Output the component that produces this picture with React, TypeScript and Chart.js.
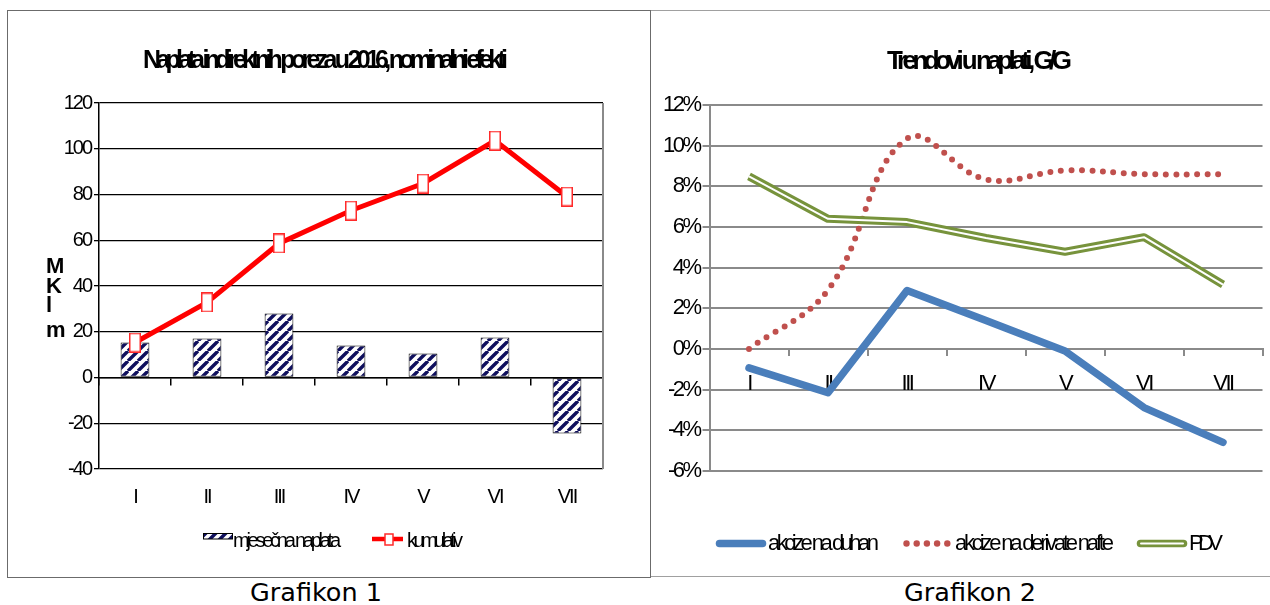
import React, { useEffect, useRef } from 'react';
import { Chart, registerables } from 'chart.js';

Chart.register(...registerables);

// ---------- data ----------
const MONTHS = ['I', 'II', 'III', 'IV', 'V', 'VI', 'VII'];

const MONTHLY_COLLECTION = [15.3, 17, 28, 14, 10.5, 17.5, -24.5];
const CUMULATIVE = [15.3, 32.8, 58.6, 73, 84.8, 103.6, 79.1];
const LEFT_Y_TICKS = [-40, -20, 0, 20, 40, 60, 80, 100, 120];
const LEFT_TITLE = 'Naplata indirektnih poreza u 2016, nominalni efekti';
const LEFT_SERIES = ['mjesečna naplata', 'kumulativ'];
const LEFT_Y_LETTERS = ['M', 'K', 'l', 'm'];

const TOBACCO = [-0.93, -2.15, 2.88, 1.4, -0.1, -2.88, -4.59];
const FUEL = [0.0, 2.9, 10.34, 8.34, 8.78, 8.6, 8.6];
const VAT = [8.49, 6.4, 6.24, 5.46, 4.78, 5.5, 3.17];
const RIGHT_Y_TICKS = [-6, -4, -2, 0, 2, 4, 6, 8, 10, 12];
const RIGHT_TITLE = 'Trendovi u naplati, G/G';
const RIGHT_SERIES = ['akcize na duhan', 'akcize na derivate nafte', 'PDV'];

const CAPTIONS = ['Grafikon 1', 'Grafikon 2'];

// ---------- styling ----------
const FONT = '"Liberation Sans", Arial, sans-serif';
const GRID_R = '#8a8a8a';
Chart.defaults.font.family = FONT;
Chart.defaults.color = '#000';

function spacingPlugin(px: number) {
  const set = (chart: any) => {
    (chart.ctx as any).letterSpacing = px + 'px';
  };
  return { id: 'letterSpacing', beforeUpdate: set, beforeLayout: set, beforeDraw: set, beforeRender: set };
}

function fitText(ctx: any, text: string, x: number, y: number, width: number, font: string) {
  ctx.save();
  ctx.font = font;
  ctx.letterSpacing = '0px';
  const w0 = ctx.measureText(text).width;
  const n = Array.from(text).length;
  ctx.letterSpacing = (width - w0) / Math.max(1, n - 1) + 'px';
  ctx.textAlign = 'left';
  ctx.textBaseline = 'alphabetic';
  ctx.fillStyle = '#000';
  ctx.fillText(text, x, y);
  ctx.restore();
}

function makeStripeTile() {
  const s = 10;
  const tile = document.createElement('canvas');
  tile.width = s;
  tile.height = s;
  const t = tile.getContext('2d')!;
  t.fillStyle = '#ffffff';
  t.fillRect(0, 0, s, s);
  t.strokeStyle = '#10105e';
  t.lineWidth = 3.4;
  t.beginPath();
  t.moveTo(-s, s); t.lineTo(0, 0);
  t.moveTo(0, s); t.lineTo(s, 0);
  t.moveTo(s, s); t.lineTo(2 * s, 0);
  t.stroke();
  return tile;
}

function makeMarker() {
  const mk = document.createElement('canvas');
  mk.width = 12;
  mk.height = 20;
  const m = mk.getContext('2d')!;
  m.fillStyle = '#ffffff';
  m.fillRect(1, 1, 10, 18);
  m.strokeStyle = '#ff2a2a';
  m.lineWidth = 1.5;
  m.strokeRect(0.75, 0.75, 10.5, 18.5);
  return mk;
}

function makeLeftChart(canvas: HTMLCanvasElement) {
  const ctx = canvas.getContext('2d')!;
  const pattern = ctx.createPattern(makeStripeTile(), 'repeat')!;
  const marker = makeMarker();
  const tickFont = { family: FONT, size: 20 };
  const step = LEFT_Y_TICKS[1] - LEFT_Y_TICKS[0];

  const decor = {
    id: 'leftDecor',
    afterDraw(chart: any) {
      const c = chart.ctx;
      const a = chart.chartArea;
      // plot area right border
      c.save();
      c.strokeStyle = '#8a8a8a';
      c.lineWidth = 2;
      c.beginPath();
      c.moveTo(a.right, a.top);
      c.lineTo(a.right, a.bottom);
      c.stroke();
      c.restore();

      // title
      fitText(c, LEFT_TITLE, 135, 57, 365, `bold 25px ${FONT}`);

      // stacked y-axis letters
      c.save();
      c.font = `bold 22px ${FONT}`;
      c.letterSpacing = '0px';
      c.fillStyle = '#000';
      c.textAlign = 'left';
      c.textBaseline = 'alphabetic';
      const baselines = [262, 282, 301, 326];
      LEFT_Y_LETTERS.forEach((ch, i) => c.fillText(ch, 38, baselines[i]));
      c.restore();

      // legend
      const lf = `20px ${FONT}`;
      c.save();
      c.fillStyle = pattern;
      c.fillRect(195, 522, 30, 6);
      c.strokeStyle = '#000';
      c.lineWidth = 1;
      c.strokeRect(195.5, 522.5, 29, 5.5);
      c.restore();
      fitText(c, LEFT_SERIES[0], 225, 536, 108, lf);

      c.save();
      c.strokeStyle = '#ff0000';
      c.lineWidth = 4.5;
      c.beginPath();
      c.moveTo(364, 528);
      c.lineTo(395, 528);
      c.stroke();
      c.fillStyle = '#fff';
      c.fillRect(377, 523, 8, 11);
      c.strokeStyle = '#ff2a2a';
      c.lineWidth = 1.5;
      c.strokeRect(377, 523, 8, 11);
      c.restore();
      fitText(c, LEFT_SERIES[1], 399, 536, 56, lf);
    },
  };

  return new Chart(canvas, {
    type: 'bar',
    data: {
      labels: MONTHS,
      datasets: [
        {
          type: 'line',
          label: LEFT_SERIES[1],
          data: CUMULATIVE,
          borderColor: '#ff0000',
          borderWidth: 5,
          pointStyle: marker as any,
          pointRadius: 6,
          pointHoverRadius: 6,
          tension: 0,
          order: 0,
          xAxisID: 'x',
          yAxisID: 'y',
        } as any,
        {
          type: 'bar',
          label: LEFT_SERIES[0],
          data: MONTHLY_COLLECTION,
          backgroundColor: pattern as any,
          borderColor: '#000',
          borderWidth: 1,
          borderSkipped: false,
          barPercentage: 0.4,
          categoryPercentage: 1,
          order: 1,
          xAxisID: 'x',
          yAxisID: 'y',
        } as any,
      ],
    },
    options: {
      animation: false,
      responsive: true,
      maintainAspectRatio: false,
      events: [],
      layout: { padding: { left: 0, right: 47, top: 92, bottom: 58 } },
      plugins: { legend: { display: false }, title: { display: false }, tooltip: { enabled: false } },
      scales: {
        x: {
          type: 'category',
          position: { y: 0 } as any,
          offset: true,
          grid: { offset: true, drawOnChartArea: false, drawTicks: true, tickLength: 7, color: '#000', lineWidth: 1.5 },
          border: { display: true, color: '#000', width: 1.5 },
          ticks: { display: false },
        },
        xl: {
          type: 'category',
          labels: MONTHS,
          position: 'bottom',
          offset: true,
          grid: { display: false, drawTicks: false },
          border: { display: false },
          ticks: { font: tickFont, color: '#000', padding: 16, maxRotation: 0 },
          afterFit: (s: any) => { s.height = 50; },
        } as any,
        y: {
          min: LEFT_Y_TICKS[0],
          max: LEFT_Y_TICKS[LEFT_Y_TICKS.length - 1],
          ticks: { stepSize: step, font: tickFont, color: '#000', padding: 3 },
          grid: { color: '#000', lineWidth: 1.3, drawTicks: true, tickLength: 5 },
          border: { display: true, color: '#000', width: 1.5 },
          afterFit: (s: any) => { s.width = 91; },
        } as any,
      },
    },
    plugins: [spacingPlugin(-2), decor],
  });
}

function makeRightChart(canvas: HTMLCanvasElement) {
  const tickFont = { family: FONT, size: 22 };
  const step = RIGHT_Y_TICKS[1] - RIGHT_Y_TICKS[0];

  const decor = {
    id: 'rightDecor',
    afterDraw(chart: any) {
      const c = chart.ctx;
      fitText(c, RIGHT_TITLE, 235, 58, 185, `bold 26px ${FONT}`);

      const lf = `22px ${FONT}`;
      const ly = 532.5;
      // blue solid
      c.save();
      c.strokeStyle = '#4a7ebb';
      c.lineWidth = 7.5;
      c.lineCap = 'round';
      c.beginPath();
      c.moveTo(67.5, ly);
      c.lineTo(110.5, ly);
      c.stroke();
      c.restore();
      fitText(c, RIGHT_SERIES[0], 116, 539, 111, lf);

      // red dots
      c.save();
      c.fillStyle = '#c0504d';
      for (let i = 0; i < 5; i++) {
        c.beginPath();
        c.arc(254.5 + i * 10.2, ly, 3.2, 0, Math.PI * 2);
        c.fill();
      }
      c.restore();
      fitText(c, RIGHT_SERIES[1], 303, 539, 159, lf);

      // green double
      c.save();
      c.lineCap = 'round';
      c.strokeStyle = '#77933c';
      c.lineWidth = 7.5;
      c.beginPath();
      c.moveTo(488.5, ly);
      c.lineTo(531.5, ly);
      c.stroke();
      c.strokeStyle = '#ffffff';
      c.lineWidth = 2;
      c.beginPath();
      c.moveTo(489, ly);
      c.lineTo(531, ly);
      c.stroke();
      c.restore();
      fitText(c, RIGHT_SERIES[2], 537, 539, 34, lf);
    },
  };

  return new Chart(canvas, {
    type: 'line',
    data: {
      labels: MONTHS,
      datasets: [
        {
          label: RIGHT_SERIES[0],
          data: TOBACCO,
          borderColor: '#4a7ebb',
          borderWidth: 7.5,
          borderCapStyle: 'round',
          borderJoinStyle: 'round',
          tension: 0,
          pointRadius: 0,
          order: 3,
        },
        {
          label: RIGHT_SERIES[1],
          data: FUEL,
          borderColor: '#c0504d',
          borderWidth: 6,
          borderDash: [0, 10.5],
          borderCapStyle: 'round',
          tension: 0.4,
          pointRadius: 0,
          order: 2,
        },
        {
          label: RIGHT_SERIES[2],
          data: VAT,
          borderColor: '#77933c',
          borderWidth: 8,
          borderJoinStyle: 'round',
          tension: 0,
          pointRadius: 0,
          order: 1,
        },
        {
          label: RIGHT_SERIES[2] + ' ',
          data: VAT,
          borderColor: '#ffffff',
          borderWidth: 2,
          borderJoinStyle: 'round',
          tension: 0,
          pointRadius: 0,
          order: 0,
        },
      ] as any,
    },
    options: {
      animation: false,
      responsive: true,
      maintainAspectRatio: false,
      events: [],
      layout: { padding: { left: 0, right: 33.5, top: 94, bottom: 106 } },
      plugins: { legend: { display: false }, title: { display: false }, tooltip: { enabled: false } },
      scales: {
        x: {
          type: 'category',
          position: { y: 0 } as any,
          offset: true,
          grid: { offset: true, drawOnChartArea: false, drawTicks: true, tickLength: 6, color: GRID_R, lineWidth: 2 },
          border: { display: true, color: GRID_R, width: 2 },
          ticks: { font: tickFont, color: '#000', padding: 16, maxRotation: 0 },
        },
        y: {
          min: RIGHT_Y_TICKS[0],
          max: RIGHT_Y_TICKS[RIGHT_Y_TICKS.length - 1],
          ticks: { stepSize: step, font: tickFont, color: '#000', padding: 3, callback: (v: any) => v + '%' },
          grid: { color: GRID_R, lineWidth: 2, drawTicks: true, tickLength: 7 },
          border: { display: true, color: GRID_R, width: 2 },
          afterFit: (s: any) => { s.width = 57.5; },
        } as any,
      },
    },
    plugins: [spacingPlugin(-2.5), decor],
  });
}

function ChartBox({ make, style }: { make: (c: HTMLCanvasElement) => Chart; style: React.CSSProperties }) {
  const ref = useRef<HTMLCanvasElement>(null);
  useEffect(() => {
    const chart = make(ref.current!);
    return () => chart.destroy();
  }, []);
  return (
    <div style={{ position: 'absolute', ...style }}>
      <canvas ref={ref} />
    </div>
  );
}

export default function App() {
  const caption: React.CSSProperties = {
    position: 'absolute',
    width: 300,
    textAlign: 'center',
    top: 578,
    fontFamily: '"DejaVu Sans", Verdana, sans-serif',
    fontSize: 25.5,
    lineHeight: '28px',
    color: '#000',
    whiteSpace: 'nowrap',
  };
  return (
    <div style={{ position: 'absolute', left: 0, top: 0, width: 1270, height: 605, overflow: 'hidden', background: '#fff' }}>
      <div style={{ position: 'absolute', left: 7, top: 10, width: 642, height: 566, border: '1px solid #6b6b6b' }} />
      <div style={{ position: 'absolute', left: 651, top: 10, width: 660, height: 565, borderTop: '1px solid #a0a0a0', borderBottom: '1px solid #a0a0a0' }} />
      <ChartBox make={makeLeftChart} style={{ left: 8, top: 11, width: 642, height: 566 }} />
      <ChartBox make={makeRightChart} style={{ left: 652, top: 11, width: 644, height: 566 }} />
      <div style={{ ...caption, left: 316 - 150 }}>{CAPTIONS[0]}</div>
      <div style={{ ...caption, left: 970 - 150 }}>{CAPTIONS[1]}</div>
    </div>
  );
}
